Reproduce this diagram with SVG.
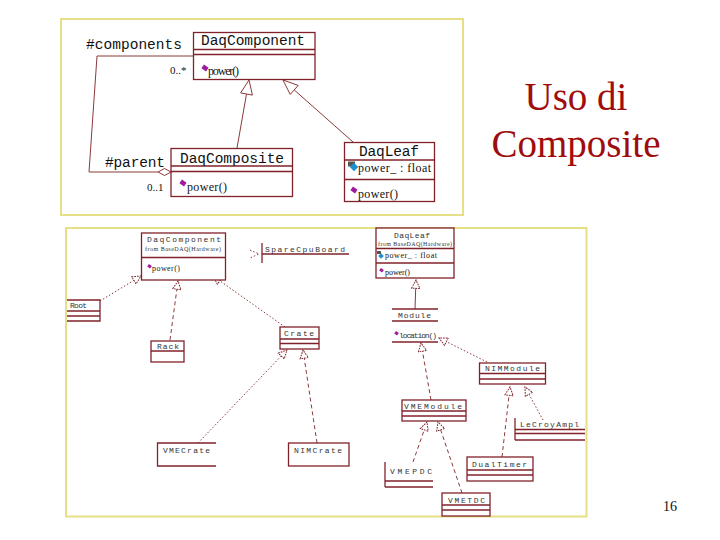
<svg xmlns="http://www.w3.org/2000/svg" width="720" height="540" viewBox="0 0 720 540">
<style>
.panel{fill:#fff;stroke:#e6df85;stroke-width:2}
.box{fill:#fff;stroke:#80222a;stroke-width:1.3}
.bl{fill:none;stroke:#80222a;stroke-width:1.3}
.ln{fill:none;stroke:#8b3a3a;stroke-width:1}
.dot{stroke-dasharray:1.5,2}
.dash{stroke-dasharray:4,3}
.mono{font-family:"Liberation Mono","DejaVu Sans Mono",monospace;fill:#111}
.ser{font-family:"Liberation Serif","Times New Roman",serif;fill:#111}
.t14{font-size:14.5px}
.t8{font-size:8px;fill:#333}
.t6{font-size:6px;fill:#333}
.op{fill:#a01aa0}
.at{fill:#1e90d0}
.title{font-family:"Liberation Serif","Times New Roman",serif;font-size:39px;fill:#a00c0c;text-anchor:middle}
</style>
<defs>
<marker id="triS" viewBox="0 0 12 12" refX="11" refY="6" markerWidth="10" markerHeight="10" markerUnits="userSpaceOnUse" orient="auto">
<path d="M1,1 L11,6 L1,11 Z" fill="#fff" stroke="#80222a" stroke-width="1.2" stroke-dasharray="2,1.2"/>
</marker>
<g id="opIcon"><rect x="-2.8" y="-2.2" width="5.6" height="4.4" transform="rotate(35)" class="op"/></g>
</defs>

<rect class="panel" x="61" y="19" width="402" height="196"/>
<rect class="panel" x="66" y="228" width="520.5" height="288.5"/>

<g id="title">
<text class="title" x="576" y="110">Uso di</text>
<text class="title" x="576" y="157">Composite</text>
</g>
<text class="ser" x="663" y="511" font-size="14">16</text>

<!-- top connectors -->
<g id="connectors-top">
<polyline class="ln" points="193,56 97,56 89,172 158,172"/>
<polygon points="158,172 164.5,168.5 171,172 164.5,175.5" fill="#fff" stroke="#8b3a3a" stroke-width="1"/>
<line class="ln" x1="237" y1="148" x2="246.5" y2="94"/>
<polygon points="249,80 252.4,95.1 240.6,92.9" fill="#fff" stroke="#8b3a3a" stroke-width="1"/>
<line class="ln" x1="353" y1="142" x2="294.2" y2="89.9"/>
<polygon points="283,80 290.2,94.4 298.2,85.4" fill="#fff" stroke="#8b3a3a" stroke-width="1"/>
<text class="mono t14" x="86" y="49" textLength="96">#components</text>
<text class="ser" x="170" y="74" font-size="11">0..*</text>
<text class="mono t14" x="105" y="167" textLength="60">#parent</text>
<text class="ser" x="147" y="191" font-size="11">0..1</text>
</g>

<g id="DaqComponent">
<rect class="box" x="193.5" y="32.5" width="121.5" height="47"/>
<line class="bl" x1="193.5" y1="49.5" x2="315" y2="49.5"/>
<line class="bl" x1="193.5" y1="54.5" x2="315" y2="54.5"/>
<text class="mono t14" x="201" y="45" textLength="104">DaqComponent</text>
<use href="#opIcon" x="205" y="68"/>
<text class="ser" x="208" y="75" font-size="12" textLength="31">power()</text>
</g>

<g id="DaqComposite">
<rect class="box" x="171" y="148.5" width="121.5" height="48"/>
<line class="bl" x1="171" y1="166" x2="292.5" y2="166"/>
<line class="bl" x1="171" y1="171.5" x2="292.5" y2="171.5"/>
<text class="mono t14" x="180" y="163" textLength="104">DaqComposite</text>
<use href="#opIcon" x="183" y="183"/>
<text class="ser" x="187" y="191" font-size="12" textLength="40">power()</text>
</g>

<g id="DaqLeaf">
<rect class="box" x="344.5" y="142.5" width="90" height="59"/>
<line class="bl" x1="344.5" y1="160" x2="434.5" y2="160"/>
<line class="bl" x1="344.5" y1="179.5" x2="434.5" y2="179.5"/>
<text class="mono t14" x="359" y="156" textLength="60">DaqLeaf</text>
<rect x="348" y="161.5" width="7" height="5" fill="#555"/>
<rect x="351" y="164" width="6" height="6" transform="rotate(45 354 167)" class="at"/>
<text class="ser" x="358" y="172" font-size="12" textLength="73">power_ : float</text>
<use href="#opIcon" x="354" y="190"/>
<text class="ser" x="358" y="198" font-size="12" textLength="40">power()</text>
</g>

<!-- bottom diagram connectors -->
<g id="connectors-bottom" class="ln">
<line class="dot" x1="100" y1="301" x2="141" y2="276" marker-end="url(#triS)"/>
<line class="dash" x1="170" y1="340" x2="178" y2="281" marker-end="url(#triS)"/>
<line class="dot" x1="285" y1="327" x2="213" y2="276" marker-end="url(#triS)"/>
<polyline class="dot" points="250,250 259,254 250,258"/>
<line x1="415" y1="309" x2="416" y2="280" marker-end="url(#triS)"/>
<line class="dot" x1="487" y1="362" x2="439" y2="338" marker-end="url(#triS)"/>
<line class="dash" x1="431" y1="400" x2="421" y2="343" marker-end="url(#triS)"/>
<line class="dot" x1="543" y1="420" x2="525" y2="387" marker-end="url(#triS)"/>
<line class="dash" x1="502" y1="457" x2="510" y2="387" marker-end="url(#triS)"/>
<line class="dash" x1="413" y1="462" x2="427" y2="422" marker-end="url(#triS)"/>
<line class="dash" x1="462" y1="493" x2="438" y2="422" marker-end="url(#triS)"/>
<line class="dot" x1="198" y1="443" x2="287" y2="350" marker-end="url(#triS)"/>
<line class="dash" x1="317" y1="443" x2="303" y2="350" marker-end="url(#triS)"/>
</g>

<g id="b-DaqComponent">
<rect class="box" x="141.5" y="233" width="84" height="47"/>
<line class="bl" x1="141.5" y1="257.5" x2="225.5" y2="257.5"/>
<text class="mono t8" x="147" y="242" textLength="74">DaqComponent</text>
<text class="ser t6" x="145" y="251" textLength="76">from BaseDAQ(Hardware)</text>
<rect x="148" y="265" width="3.5" height="3" class="op" transform="rotate(35 150 266)"/>
<text class="ser" x="152" y="271" font-size="8" fill="#333" textLength="28">power()</text>
</g>

<g id="b-Root">
<polyline class="bl" points="67,300 100,300 100,321 67,321"/>
<line class="bl" x1="67" y1="311" x2="100" y2="311"/>
<line class="bl" x1="67" y1="316" x2="100" y2="316"/>
<text class="mono t8" x="70" y="308" textLength="17">Root</text>
</g>

<g id="b-SpareCpuBoard">
<line class="bl" x1="262" y1="243" x2="262" y2="263"/>
<line class="bl" x1="262" y1="254" x2="349" y2="254"/>
<text class="mono t8" x="265" y="252" textLength="80">SpareCpuBoard</text>
</g>

<g id="b-Rack">
<rect class="box" x="151" y="341" width="33" height="21"/>
<line class="bl" x1="151" y1="351" x2="184" y2="351"/>
<text class="mono t8" x="157" y="349" textLength="22">Rack</text>
</g>

<g id="b-Crate">
<rect class="box" x="280" y="327" width="39" height="22"/>
<line class="bl" x1="280" y1="339" x2="319" y2="339"/>
<line class="bl" x1="280" y1="343.5" x2="319" y2="343.5"/>
<text class="mono t8" x="284" y="336" textLength="30">Crate</text>
</g>

<g id="b-DaqLeaf">
<rect class="box" x="376" y="228" width="78" height="50"/>
<line class="bl" x1="376" y1="248.5" x2="454" y2="248.5"/>
<line class="bl" x1="376" y1="263" x2="454" y2="263"/>
<text class="mono t8" x="394" y="238" textLength="36">DaqLeaf</text>
<text class="ser t6" x="378" y="245.5" textLength="74">from BaseDAQ(Hardware)</text>
<rect x="377" y="251" width="4" height="3" fill="#555"/>
<rect x="379" y="254" width="4" height="4" class="at" transform="rotate(45 381 256)"/>
<text class="ser" x="385" y="258" font-size="8" fill="#333" textLength="52">power_ : float</text>
<rect x="380" y="269" width="3.5" height="3" class="op" transform="rotate(35 382 270)"/>
<text class="ser" x="385" y="275" font-size="8" fill="#333" textLength="25">power()</text>
</g>

<g id="b-Module">
<line class="bl" x1="392" y1="309" x2="438" y2="309"/>
<line class="bl" x1="392" y1="321" x2="438" y2="321"/>
<line class="bl" x1="392" y1="342" x2="438" y2="342"/>
<text class="mono t8" x="398" y="318" textLength="33">Module</text>
<rect x="395" y="332" width="3.5" height="3" class="op" transform="rotate(35 397 333)"/>
<text class="mono t8" x="399" y="338" textLength="38">location()</text>
</g>

<g id="b-NIMModule">
<rect class="box" x="479.5" y="363" width="66" height="21"/>
<line class="bl" x1="479.5" y1="373.5" x2="545.5" y2="373.5"/>
<line class="bl" x1="479.5" y1="379" x2="545.5" y2="379"/>
<text class="mono t8" x="485" y="371" textLength="55">NIMModule</text>
</g>

<g id="b-VMEModule">
<rect class="box" x="402" y="400" width="64" height="21"/>
<line class="bl" x1="402" y1="411" x2="466" y2="411"/>
<line class="bl" x1="402" y1="416" x2="466" y2="416"/>
<text class="mono t8" x="404" y="408.5" textLength="58">VMEModule</text>
</g>

<g id="b-LeCroyAmpl">
<line class="bl" x1="515" y1="418" x2="515" y2="440"/>
<line class="bl" x1="515" y1="429.5" x2="585" y2="429.5"/>
<line class="bl" x1="515" y1="433.5" x2="585" y2="433.5"/>
<line class="bl" x1="515" y1="440" x2="585" y2="440"/>
<text class="mono t8" x="520" y="426.5" textLength="59">LeCroyAmpl</text>
</g>

<g id="b-DualTimer">
<rect class="box" x="467" y="457" width="66" height="24"/>
<line class="bl" x1="467" y1="470" x2="533" y2="470"/>
<line class="bl" x1="467" y1="475" x2="533" y2="475"/>
<text class="mono t8" x="472" y="466.5" textLength="55">DualTimer</text>
</g>

<g id="b-VMEPDC">
<line class="bl" x1="385" y1="462" x2="385" y2="487"/>
<line class="bl" x1="385" y1="481" x2="433" y2="481"/>
<line class="bl" x1="385" y1="487" x2="433" y2="487"/>
<text class="mono t8" x="390" y="473.5" textLength="42">VMEPDC</text>
</g>

<g id="b-VMETDC">
<rect class="box" x="442" y="493" width="48" height="23"/>
<line class="bl" x1="442" y1="505" x2="490" y2="505"/>
<line class="bl" x1="442" y1="510" x2="490" y2="510"/>
<text class="mono t8" x="448" y="503" textLength="37">VMETDC</text>
</g>

<g id="b-VMECrate">
<polyline class="bl" points="216,443 157.5,443 157.5,466 216,466"/>
<text class="mono t8" x="163" y="453" textLength="47">VMECrate</text>
</g>

<g id="b-NIMCrate">
<rect class="box" x="288.5" y="443" width="60.5" height="23"/>
<text class="mono t8" x="294" y="453" textLength="48">NIMCrate</text>
</g>
</svg>
